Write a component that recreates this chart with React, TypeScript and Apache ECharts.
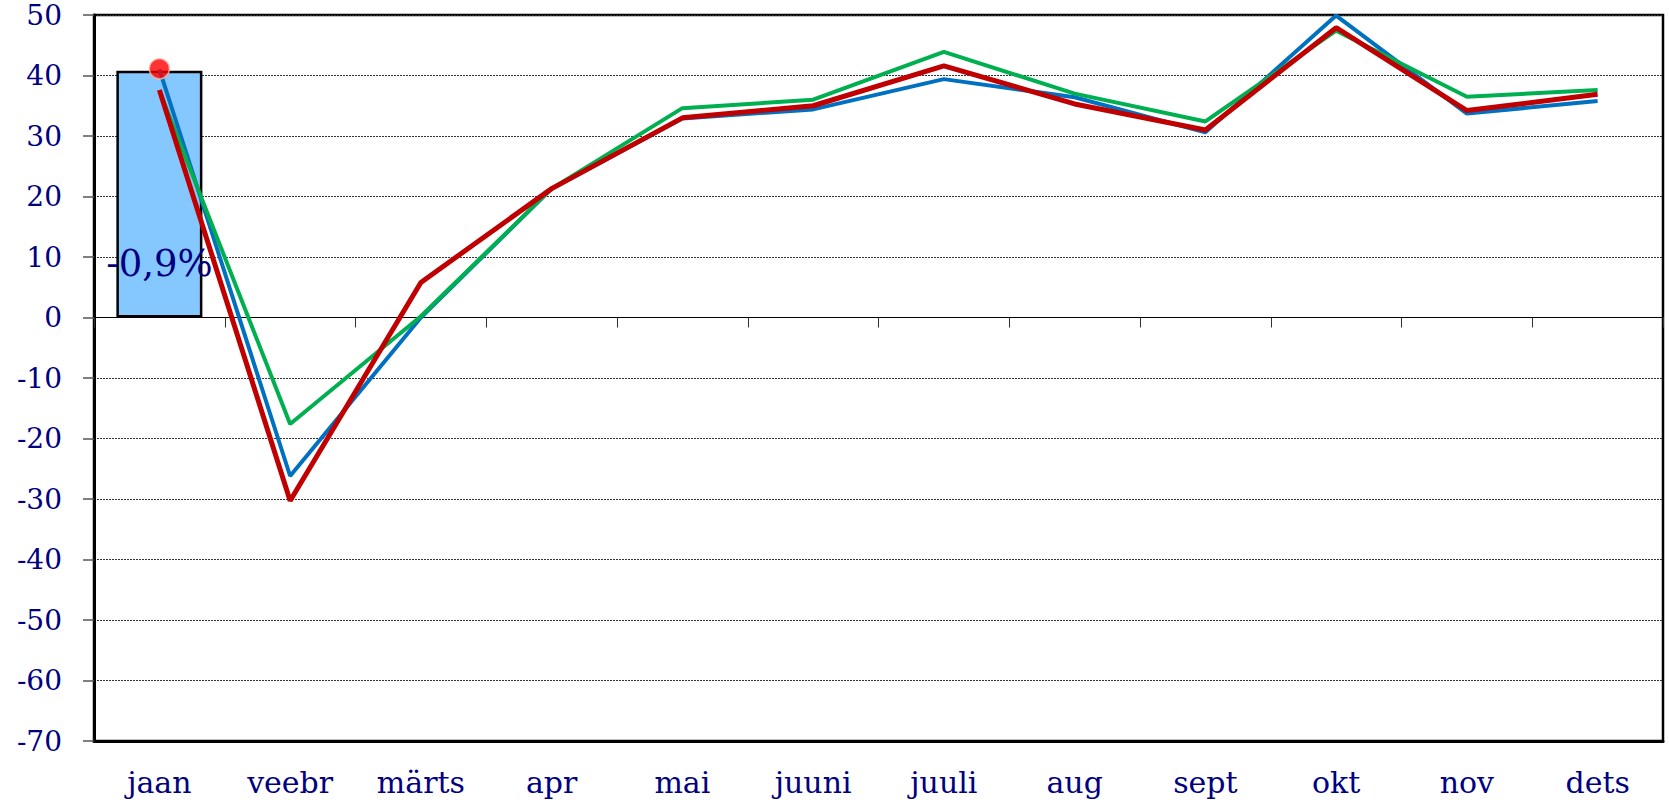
import React, { useEffect, useRef } from "react";
import * as echarts from "echarts";

const months = ["jaan", "veebr", "märts", "apr", "mai", "juuni", "juuli", "aug", "sept", "okt", "nov", "dets"];
const blueSeries = [41.0, -26.2, 0.0, 21.3, 32.9, 34.4, 39.4, 36.4, 30.6, 49.9, 33.7, 35.8];
const greenSeries = [37.5, -17.6, 0.2, 21.3, 34.6, 36.0, 43.9, 37.0, 32.4, 47.4, 36.5, 37.6];
const redSeries = [37.6, -30.3, 5.8, 21.3, 33.0, 35.0, 41.6, 35.3, 31.0, 47.9, 34.2, 36.9];
const barValues: (number | null)[] = [40.8, null, null, null, null, null, null, null, null, null, null, null];
const barLabel = "-0,9%";
const dotValues: (number | null)[] = [41.1, null, null, null, null, null, null, null, null, null, null, null];

const NAVY = "#000080";
const FONT = "'DejaVu Serif', serif";

export default function App() {
  const ref = useRef<HTMLDivElement>(null);
  useEffect(() => {
    document.body.style.margin = "0";
    const chart = echarts.init(ref.current!, null, { renderer: "svg" });
    chart.setOption({
      animation: false,
      backgroundColor: "#fff",
      grid: { left: 94, right: 6, top: 15, bottom: 63, show: true, borderColor: "#000", borderWidth: 2.5 },
      xAxis: [
        {
          type: "category",
          data: months,
          position: "bottom",
          axisLine: { onZero: false, lineStyle: { color: "#000", width: 3 } },
          axisTick: { show: false },
          axisLabel: { color: NAVY, fontFamily: FONT, fontSize: 30, margin: 26 },
          splitLine: { show: false },
        },
        {
          type: "category",
          data: months,
          position: "bottom",
          axisLine: { onZero: true, lineStyle: { color: "#000", width: 1.2 } },
          axisTick: { show: true, length: 10, lineStyle: { color: "#333", width: 1 } },
          axisLabel: { show: false },
          splitLine: { show: false },
        },
      ],
      yAxis: {
        type: "value",
        min: -70,
        max: 50,
        interval: 10,
        axisLine: { show: true, onZero: false, lineStyle: { color: "#000", width: 3 } },
        axisTick: { show: true, length: 11, lineStyle: { color: "#555", width: 1.5 } },
        axisLabel: { color: NAVY, fontFamily: FONT, fontSize: 28, margin: 32 },
        splitLine: { show: true, lineStyle: { color: "#333", width: 1, type: [2, 1] } },
      },
      series: [
        {
          type: "bar",
          data: barValues,
          barWidth: 86,
          z: 1,
          itemStyle: { color: "#85C8FF", borderColor: "#000", borderWidth: 2.5 },
          label: {
            show: true,
            position: ["50%", "78%"],
            align: "center",
            verticalAlign: "middle",
            formatter: () => barLabel,
            color: NAVY,
            fontFamily: FONT,
            fontSize: 37,
          },
        },
        {
          type: "line",
          data: blueSeries,
          z: 2,
          symbol: "none",
          lineStyle: { color: "#0070C0", width: 4 },
        },
        {
          type: "line",
          data: greenSeries,
          z: 3,
          symbol: "none",
          lineStyle: { color: "#00B050", width: 4 },
        },
        {
          type: "line",
          data: redSeries,
          z: 4,
          symbol: "none",
          lineStyle: { color: "#C00000", width: 5 },
        },
        {
          type: "scatter",
          data: dotValues,
          z: 5,
          symbolSize: 20,
          itemStyle: { color: "#FF0000", borderColor: "#FFB4A0", borderWidth: 1.5 },
        },
      ],
    });
    return () => chart.dispose();
  }, []);
  return <div ref={ref} style={{ width: 1669, height: 804 }} />;
}
